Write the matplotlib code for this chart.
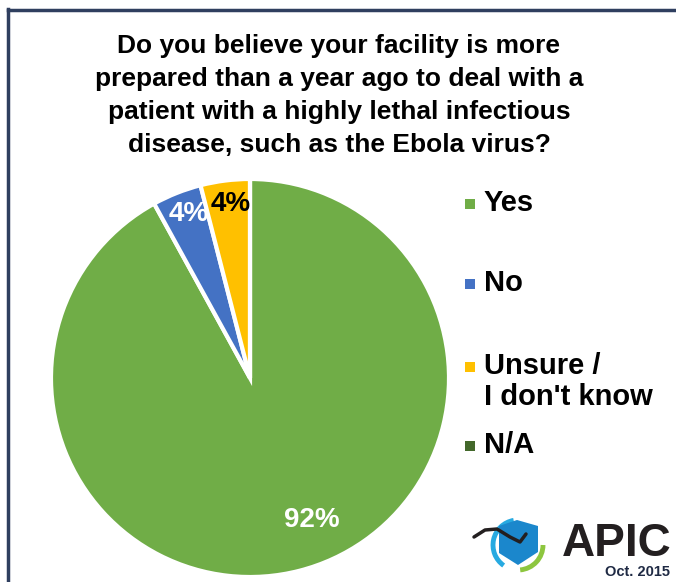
import numpy as np
import matplotlib.pyplot as plt
from matplotlib.patches import Rectangle, Polygon, Arc

plt.rcParams['font.family'] = ['Liberation Sans', 'DejaVu Sans']

title = ("Do you believe your facility is more\n"
         "prepared than a year ago to deal with a\n"
         "patient with a highly lethal infectious\n"
         "disease, such as the Ebola virus?")
categories = ["Yes", "No", "Unsure /\nI don't know", "N/A"]
shares = [92, 4, 4, 0]
colors = ["#70AD47", "#4472C4", "#FFC000", "#43682B"]
label_colors = ["white", "white", "black", "black"]

W, H = 676, 582
fig = plt.figure(figsize=(W / 100, H / 100), dpi=100)

def fx(px):
    return px / W

def fy(py):
    return 1 - py / H

# frame (only top and left edges visible)
fig.add_artist(plt.Line2D([fx(8), fx(8)], [fy(9), 0], color="#2F3F5F", lw=2.5))
fig.add_artist(plt.Line2D([fx(8), 1], [fy(10), fy(10)], color="#2F3F5F", lw=2.5))

fig.text(fx(339), fy(34), title, ha="center", va="top", fontsize=19,
         fontweight="bold", linespacing=1.47)

# pie
cx, cy, r = 250, 378, 199
ax = fig.add_axes([fx(cx - r), fy(cy + r), 2 * r / W, 2 * r / H])
wedges, _ = ax.pie(shares, colors=colors, startangle=90, counterclock=False,
                   radius=1, wedgeprops=dict(edgecolor="white", linewidth=3))
ax.set_xlim(-1, 1)
ax.set_ylim(-1, 1)

for w, val, lc in zip(wedges, shares, label_colors):
    if val == 0:
        continue
    ang = np.deg2rad((w.theta1 + w.theta2) / 2)
    if val > 50:
        ang += np.deg2rad(9)
        d = 0.78
    else:
        ang -= np.deg2rad(1)
        d = 0.88
    ax.text(d * np.cos(ang), d * np.sin(ang), f"{val}%", ha="center",
            va="center", color=lc, fontsize=20, fontweight="bold")

# legend drawn by hand
leg_y = [204, 284, 367, 446]
for cat, col, yy in zip(categories, colors, leg_y):
    fig.add_artist(Rectangle((fx(465), fy(yy + 5)), 10 / W, 10 / H,
                             facecolor=col, edgecolor="none"))
    fig.text(fx(484), fy(yy - 15), cat, ha="left", va="top", fontsize=21,
             fontweight="bold", linespacing=1.15)

# logo, drawn in pixel coordinates (y axis inverted, so arc angles are mirrored)
lax = fig.add_axes([fx(468), fy(580), 92 / W, 72 / H])
lax.set_xlim(468, 560)
lax.set_ylim(580, 508)
lax.axis("off")
lax.add_patch(Arc((518, 545), 50, 50, theta1=125, theta2=260, color="#27AAE1", lw=3.5))
lax.add_patch(Arc((518, 545), 50, 50, theta1=0, theta2=85, color="#8DC63F", lw=3.5))
lax.add_patch(Polygon([[499, 526], [517, 520], [538, 526], [538, 552], [518, 565], [499, 553]],
                      closed=True, facecolor="#1B87CC", edgecolor="none"))
lax.plot([474, 485, 497, 510, 520, 526], [537, 530, 529, 537, 542, 534],
         color="#231F20", lw=2.5, solid_capstyle="round")
fig.text(fx(562), fy(544), "APIC", ha="left", va="center", fontsize=33,
         fontweight="bold", color="#231F20")
fig.text(fx(670), fy(572), "Oct. 2015", ha="right", va="center", fontsize=10.5,
         fontweight="bold", color="#1F2A44")

fig.savefig("out.png", dpi=100)
